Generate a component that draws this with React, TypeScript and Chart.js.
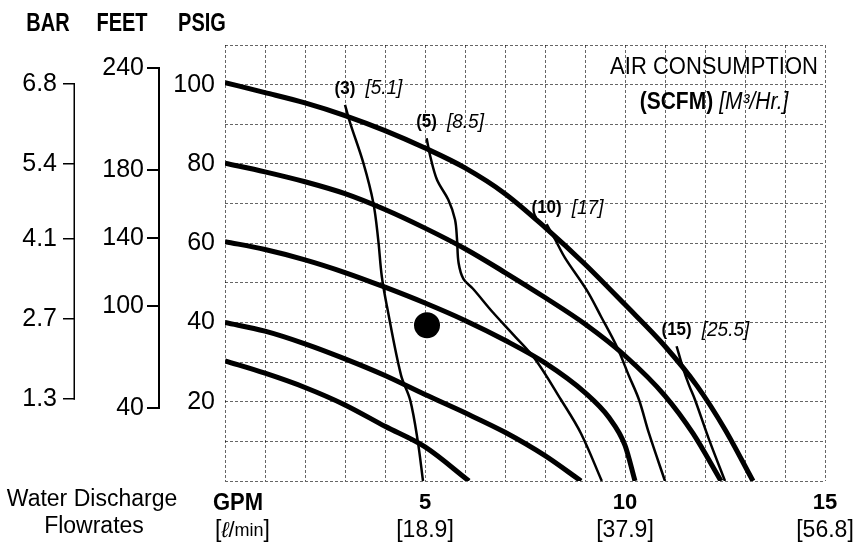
import React, { useEffect, useRef } from 'react';
import { Chart, registerables } from 'chart.js';

Chart.register(...registerables);

const FONT = "'Liberation Sans', Arial, Helvetica, sans-serif";

// Discharge pressure curves (GPM -> PSIG)
const p100X = [0, 1, 2, 3, 4, 5, 6, 7, 8, 9, 10, 11, 11.8, 12.5, 13.2];
const p100Y = [100.5, 98, 95.4, 92.2, 88.4, 84, 79, 72.5, 64, 54.7, 44.5, 34, 24, 13, 0];
const p80X = [0, 1, 2, 3, 4, 5, 6, 7, 8, 9, 10, 11, 11.7, 12.4];
const p80Y = [80.2, 78, 75.5, 72.5, 68.5, 63.8, 58.6, 52.6, 46.3, 39.6, 31.6, 21.5, 12, 0];
const p60X = [0, 1, 2, 3, 4, 5, 6, 7, 8, 9, 9.6, 10, 10.25];
const p60Y = [60.4, 58.4, 55.8, 52.6, 48.9, 44.9, 40.5, 35.5, 29.8, 22.3, 16, 9, 0];
const p40X = [0, 1, 2, 3, 4, 5, 6, 7, 8, 8.9];
const p40Y = [40, 37.8, 34.6, 30.8, 26.6, 21.8, 17.2, 12.3, 6.4, 0];
const p30X = [0, 1, 2, 3, 4, 5, 6.1];
const p30Y = [30.3, 27.2, 23.6, 19.2, 13.8, 8.6, 0];

// Air consumption lines
const air3X = [3.0, 3.13, 3.46, 3.71, 3.83, 3.92, 4.05, 4.4, 4.63, 4.82, 4.95];
const air3Y = [94.9, 90.3, 80.2, 70.1, 60.9, 51.6, 44, 26.7, 20.4, 10, 0];
const air5X = [5.04, 5.13, 5.3, 5.58, 5.75, 5.8, 5.84, 5.96, 6.2, 6.7, 7.2, 7.75, 8.4, 8.9, 9.42];
const air5Y = [86.5, 82, 76, 71, 66, 61, 55, 51, 48.5, 42.5, 37, 30.8, 20.5, 12, 0];
const air10X = [8.04, 8.25, 8.5, 9.04, 9.4, 9.8, 10.1, 10.35, 10.6, 11.0];
const air10Y = [64.8, 61, 56.3, 48.2, 41.5, 33.8, 26.5, 20.5, 12, 0];
const air15X = [11.29, 11.45, 11.6, 11.75, 12.1, 12.5];
const air15Y = [34, 28.5, 24.2, 20.5, 10.5, 0];

const airScfm = ['(3)', '(5)', '(10)', '(15)'];
const airM3 = ['[5.1]', '[8.5]', '[17]', '[25.5]'];

// Operating point
const dotX = [5.05];
const dotY = [39.3];

// Axis ticks / labels
const gpmTicks = [5, 10, 15];
const gpmLabels = ['5', '10', '15'];
const lpmLabels = ['[18.9]', '[37.9]', '[56.8]'];
const psigLabeled = [20, 40, 60, 80, 100];
const feetTicks = [40, 100, 140, 180, 240];
const feetLabels = ['40', '100', '140', '180', '240'];
const barTicks = [1.3, 2.7, 4.1, 5.4, 6.8];
const barLabels = ['1.3', '2.7', '4.1', '5.4', '6.8'];

const pts = (xs: number[], ys: number[]) => xs.map((x, i) => ({ x, y: ys[i] }));

const pressureSets = [
  [p100X, p100Y],
  [p80X, p80Y],
  [p60X, p60Y],
  [p40X, p40Y],
  [p30X, p30Y],
];
const airSets = [
  [air3X, air3Y],
  [air5X, air5Y],
  [air10X, air10Y],
  [air15X, air15Y],
];

function drawText(ctx: CanvasRenderingContext2D, text: string, x: number, y: number, font: string, align: CanvasTextAlign = 'center', sy = 1) {
  ctx.save();
  ctx.translate(x, y);
  ctx.scale(1, sy);
  ctx.font = font;
  ctx.textAlign = align;
  ctx.textBaseline = 'middle';
  ctx.fillText(text, 0, 0);
  ctx.restore();
}

const overlay = {
  id: 'overlay',
  afterDraw(chart: any) {
    const { ctx, scales, chartArea } = chart;
    const xs = scales.x, ys = scales.y, bar = scales.bar, feet = scales.feet;
    ctx.save();
    ctx.fillStyle = '#000';
    ctx.strokeStyle = '#000';

    const bracket = (s: any, ticks: number[], lw: number) => {
      const t = s.getPixelForValue(Math.max(...ticks));
      const b = s.getPixelForValue(Math.min(...ticks));
      const xr = s.right - lw / 2;
      ctx.lineWidth = lw;
      ctx.beginPath();
      ctx.moveTo(xr, t - lw / 2);
      ctx.lineTo(xr, b + lw / 2);
      ctx.stroke();
    };
    bracket(bar, barTicks, 1.5);
    bracket(feet, feetTicks, 2);

    // axis headers
    drawText(ctx, 'BAR', bar.right - 27, 24, `bold 20px ${FONT}`, 'center', 1.25);
    drawText(ctx, 'FEET', feet.right - 38, 24, `bold 20px ${FONT}`, 'center', 1.25);
    drawText(ctx, 'PSIG', ys.right - 23, 24, `bold 20px ${FONT}`, 'center', 1.25);

    // x axis captions
    drawText(ctx, 'Water Discharge', 92, chartArea.bottom + 19, `23px ${FONT}`);
    drawText(ctx, 'Flowrates', 94, chartArea.bottom + 46, `23px ${FONT}`);
    drawText(ctx, 'GPM', chartArea.left - 12, chartArea.bottom + 22, `bold 22px ${FONT}`, 'left', 1.1);
    let cx = chartArea.left - 10;
    const cy = chartArea.bottom + 50;
    const parts: [string, string][] = [
      ['[', `23px ${FONT}`],
      ['ℓ', `italic 22px ${FONT}`],
      ['/', `22px ${FONT}`],
      ['min', `18px ${FONT}`],
      [']', `23px ${FONT}`],
    ];
    for (const [t, f] of parts) {
      ctx.font = f;
      drawText(ctx, t, cx, cy, f, 'left');
      cx += ctx.measureText(t).width;
    }

    // Air consumption title
    const tx = chartArea.right - 111;
    drawText(ctx, 'AIR CONSUMPTION', tx, chartArea.top + 22, `22px ${FONT}`, 'center', 1.1);
    ctx.font = `bold 21px ${FONT}`;
    const w1 = ctx.measureText('(SCFM)').width;
    ctx.font = `italic 21px ${FONT}`;
    const w2 = ctx.measureText('[M³/Hr.]').width;
    const gap = 6;
    const sx0 = tx - (w1 + gap + w2) / 2;
    drawText(ctx, '(SCFM)', sx0, chartArea.top + 58, `bold 21px ${FONT}`, 'left', 1.1);
    drawText(ctx, '[M³/Hr.]', sx0 + w1 + gap, chartArea.top + 58, `italic 21px ${FONT}`, 'left', 1.1);

    // Air line labels
    airSets.forEach(([ax, ay], i) => {
      const px = xs.getPixelForValue(ax[0]);
      const py = ys.getPixelForValue(ay[0]) - 16;
      ctx.font = `bold 17px ${FONT}`;
      const wa = ctx.measureText(airScfm[i]).width;
      drawText(ctx, airScfm[i], px, py, `bold 17px ${FONT}`, 'center', 1.1);
      drawText(ctx, airM3[i], px + wa / 2 + 10, py, `italic 19px ${FONT}`, 'left', 1.05);
    });
    ctx.restore();
  },
};

const gridDash = [3, 2];
const gridColor = 'rgba(0,0,0,0.6)';

export default function App() {
  const ref = useRef<HTMLCanvasElement | null>(null);
  useEffect(() => {
    if (!ref.current) return;
    Chart.defaults.font.family = FONT;
    Chart.defaults.color = '#000';
    const datasets: any[] = [];
    pressureSets.forEach(([x, y]) =>
      datasets.push({
        data: pts(x, y),
        showLine: true,
        borderColor: '#000',
        borderWidth: 5,
        pointRadius: 0,
        cubicInterpolationMode: 'monotone',
      })
    );
    airSets.forEach(([x, y]) =>
      datasets.push({
        data: pts(x, y),
        showLine: true,
        borderColor: '#000',
        borderWidth: 2.5,
        pointRadius: 0,
        tension: 0.35,
      })
    );
    datasets.push({
      data: pts(dotX, dotY),
      showLine: false,
      pointRadius: 13,
      pointBackgroundColor: '#000',
      pointBorderColor: '#000',
      pointBorderWidth: 0,
    });

    const chart = new Chart(ref.current, {
      type: 'scatter',
      data: { datasets },
      options: {
        responsive: false,
        animation: false,
        events: [],
        layout: { padding: { left: 0, right: 34, top: 45, bottom: 1 } },
        plugins: { legend: { display: false }, tooltip: { enabled: false } },
        scales: {
          x: {
            type: 'linear',
            position: 'bottom',
            weight: 0,
            min: 0,
            max: 15,
            afterFit: (s: any) => { s.height = 36; },
            ticks: {
              stepSize: 1,
              autoSkip: false,
              maxRotation: 0,
              padding: 9,
              font: { size: 22, weight: 'bold' },
              callback: (v: any) => {
                const i = gpmTicks.indexOf(Number(v));
                return i >= 0 ? gpmLabels[i] : '';
              },
            },
            grid: { color: gridColor, lineWidth: 1, drawTicks: false },
            border: { display: false, dash: gridDash },
          },
          x2: {
            type: 'linear',
            position: 'bottom',
            weight: 1,
            min: 0,
            max: 15,
            afterFit: (s: any) => { s.height = 30; },
            ticks: {
              stepSize: 1,
              autoSkip: false,
              maxRotation: 0,
              padding: 0,
              font: { size: 23 },
              callback: (v: any) => {
                const i = gpmTicks.indexOf(Number(v));
                return i >= 0 ? lpmLabels[i] : '';
              },
            },
            grid: { display: false, drawTicks: false },
            border: { display: false },
          },
          y: {
            type: 'linear',
            position: 'left',
            weight: 0,
            min: 0,
            max: 110,
            afterFit: (s: any) => { s.width = 65; },
            ticks: {
              stepSize: 10,
              padding: 10,
              font: { size: 25 },
              callback: (v: any) => (psigLabeled.includes(Number(v)) ? String(v) : ''),
            },
            grid: { color: gridColor, lineWidth: 1, drawTicks: false },
            border: { display: false, dash: gridDash },
          },
          feet: {
            type: 'linear',
            position: 'left',
            weight: 1,
            min: -2.9,
            max: 253.5,
            afterFit: (s: any) => { s.width = 85; },
            afterBuildTicks: (s: any) => { s.ticks = feetTicks.map((v) => ({ value: v })); },
            ticks: {
              padding: 3,
              font: { size: 25 },
              callback: (v: any) => feetLabels[feetTicks.indexOf(Number(v))] ?? '',
            },
            grid: { drawOnChartArea: false, drawTicks: true, tickLength: 13, tickWidth: 2, tickColor: '#000', lineWidth: 2, color: '#000' },
            border: { display: false },
          },
          bar: {
            type: 'linear',
            position: 'left',
            weight: 2,
            min: -0.13,
            max: 7.48,
            afterFit: (s: any) => { s.width = 75; },
            afterBuildTicks: (s: any) => { s.ticks = barTicks.map((v) => ({ value: v })); },
            ticks: {
              padding: 6,
              font: { size: 25 },
              callback: (v: any) => barLabels[barTicks.indexOf(Number(v))] ?? '',
            },
            grid: { drawOnChartArea: false, drawTicks: true, tickLength: 12, tickWidth: 1.5, tickColor: '#000', lineWidth: 1.5, color: '#000' },
            border: { display: false },
          },
        },
      } as any,
      plugins: [overlay],
    });
    return () => chart.destroy();
  }, []);

  return (
    <div style={{ position: 'fixed', left: 0, top: 0, width: 859, height: 548, background: '#fff' }}>
      <canvas ref={ref} width={859} height={548} style={{ display: 'block' }} />
    </div>
  );
}
